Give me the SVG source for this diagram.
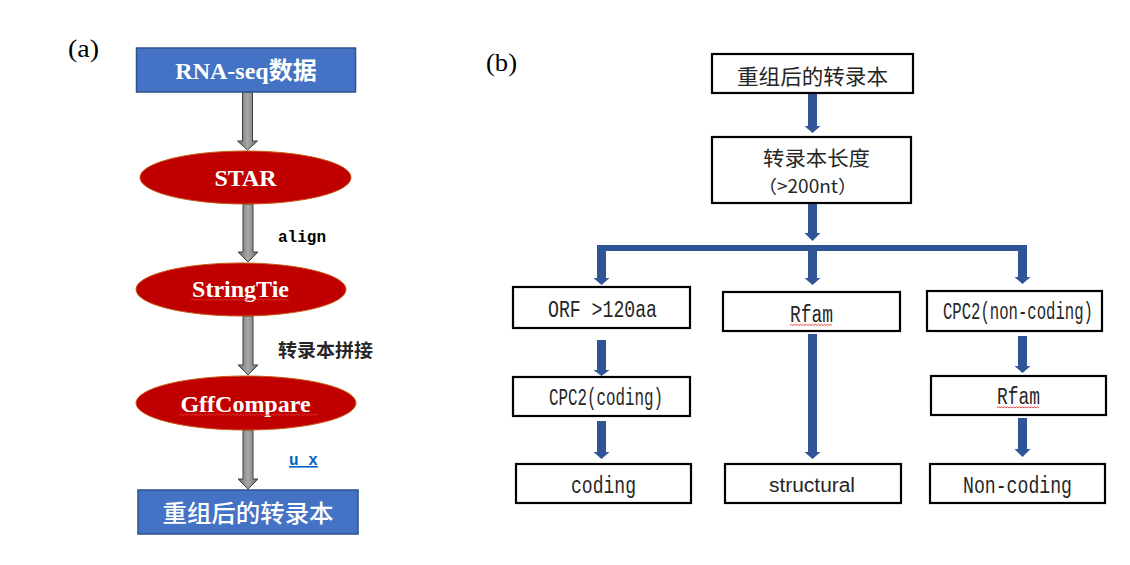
<svg xmlns="http://www.w3.org/2000/svg" width="1130" height="565" viewBox="0 0 1130 565">
<defs>
<linearGradient id="gray" x1="0" y1="0" x2="1" y2="0">
<stop offset="0" stop-color="#6a6a6a"/>
<stop offset="0.5" stop-color="#a8a8a8"/>
<stop offset="1" stop-color="#6a6a6a"/>
</linearGradient>
<style>
.bluebox{fill:#4472C4;stroke:#2F528F;stroke-width:1.5}
.red{fill:#C00000;stroke:#C55A11;stroke-width:1}
.garrow{fill:url(#gray);stroke:#404040;stroke-width:1}
.barrow{fill:#2F5597;stroke:none}
.wbox{fill:#ffffff;stroke:#000000;stroke-width:2.2}
.wt{fill:#ffffff;font-family:"Liberation Serif","Noto Sans CJK SC",serif;font-weight:bold;font-size:24px;text-anchor:middle}
.lab{font-family:"Liberation Serif","Noto Sans CJK SC",serif;font-size:25px;fill:#000}
.note{font-family:"Liberation Mono","Noto Sans CJK SC",monospace;font-size:16px;font-weight:bold;fill:#000}
.cjk{font-family:"Noto Sans CJK SC",sans-serif;fill:#262626}
.mono{font-family:"Liberation Mono","Noto Sans CJK SC",monospace;font-size:23px;fill:#262626}
.wavy{fill:none;stroke:#E03030;stroke-width:0.9}
</style>
</defs>
<rect width="1130" height="565" fill="#ffffff"/>

<text class="lab" x="68" y="57" textLength="31" lengthAdjust="spacingAndGlyphs">(a)</text>
<text class="lab" x="486" y="71" textLength="31" lengthAdjust="spacingAndGlyphs">(b)</text>

<g id="connectors">
<path class="garrow" d="M242.5,92 L252.5,92 L252.5,141 L257.5,141 L247.5,150 L237.5,141 L242.5,141 Z"/>
<path class="garrow" d="M243,204 L253,204 L253,252 L258,252 L248,262 L238,252 L243,252 Z"/>
<path class="garrow" d="M243,316 L253,316 L253,365 L258,365 L248,375 L238,365 L243,365 Z"/>
<path class="garrow" d="M243,430 L253,430 L253,479 L258,479 L248,489 L238,479 L243,479 Z"/>

<path class="barrow" d="M808,93 L817,93 L817,126 L820.5,126 L812.5,133 L804.5,126 L808,126 Z"/>
<path class="barrow" d="M808,203 L817,203 L817,233 L820.5,233 L812.5,241 L804.5,233 L808,233 Z"/>
<rect class="barrow" x="597" y="245" width="430" height="6"/>
<path class="barrow" d="M597,245 L606,245 L606,278 L609.5,278 L601.5,285 L593.5,278 L597,278 Z"/>
<path class="barrow" d="M808,251 L817,251 L817,278 L820.5,278 L812.5,285 L804.5,278 L808,278 Z"/>
<path class="barrow" d="M1018,245 L1027,245 L1027,277 L1030.5,277 L1022.5,284 L1014.5,277 L1018,277 Z"/>
<path class="barrow" d="M597,340 L606,340 L606,370 L609.5,370 L601.5,376 L593.5,370 L597,370 Z"/>
<path class="barrow" d="M597,421 L606,421 L606,452 L609.5,452 L601.5,459 L593.5,452 L597,452 Z"/>
<path class="barrow" d="M808,334 L817,334 L817,452 L820.5,452 L812.5,459 L804.5,452 L808,452 Z"/>
<path class="barrow" d="M1018,336 L1027,336 L1027,366 L1030.5,366 L1022.5,373 L1014.5,366 L1018,366 Z"/>
<path class="barrow" d="M1018,418 L1027,418 L1027,449 L1030.5,449 L1022.5,457 L1014.5,449 L1018,449 Z"/>

<text class="note" x="278" y="242">align</text>
<text class="cjk" x="278" y="357" font-size="18" font-weight="bold" fill="#000" textLength="95" lengthAdjust="spacingAndGlyphs">转录本拼接</text>
<text class="note" x="289" y="465" fill="#0563C1" style="fill:#0563C1;text-decoration:underline">u x</text>
</g>

<g id="a-rnaseq">
<rect class="bluebox" x="136.5" y="48" width="219" height="44"/>
<text class="wt" x="246" y="79">RNA-seq数据</text>
</g>
<g id="a-star">
<ellipse class="red" cx="245.5" cy="177.5" rx="105.5" ry="26.5"/>
<text class="wt" x="245.5" y="186">STAR</text>
</g>
<g id="a-stringtie">
<ellipse class="red" cx="241" cy="289.5" rx="105" ry="26.5"/>
<text class="wt" x="240.5" y="297">StringTie</text>
<path class="wavy" d="M191,300.5 l2,-1.5 l2,1.5 l2,-1.5 l2,1.5 l2,-1.5 l2,1.5 l2,-1.5 l2,1.5 l2,-1.5 l2,1.5 l2,-1.5 l2,1.5 l2,-1.5 l2,1.5 l2,-1.5 l2,1.5 l2,-1.5 l2,1.5 l2,-1.5 l2,1.5 l2,-1.5 l2,1.5 l2,-1.5 l2,1.5 l2,-1.5 l2,1.5 l2,-1.5 l2,1.5 l2,-1.5 l2,1.5 l2,-1.5 l2,1.5 l2,-1.5 l2,1.5 l2,-1.5 l2,1.5 l2,-1.5 l2,1.5 l2,-1.5 l2,1.5 l2,-1.5 l2,1.5 l2,-1.5 l2,1.5 l2,-1.5 l2,1.5 l2,-1.5 l2,1.5 l2,-1.5"/>
</g>
<g id="a-gffcompare">
<ellipse class="red" cx="246" cy="403" rx="110" ry="27"/>
<text class="wt" x="245.5" y="412">GffCompare</text>
<path class="wavy" d="M179,415.5 l2,-1.5 l2,1.5 l2,-1.5 l2,1.5 l2,-1.5 l2,1.5 l2,-1.5 l2,1.5 l2,-1.5 l2,1.5 l2,-1.5 l2,1.5 l2,-1.5 l2,1.5 l2,-1.5 l2,1.5 l2,-1.5 l2,1.5 l2,-1.5 l2,1.5 l2,-1.5 l2,1.5 l2,-1.5 l2,1.5 l2,-1.5 l2,1.5 l2,-1.5 l2,1.5 l2,-1.5 l2,1.5 l2,-1.5 l2,1.5 l2,-1.5 l2,1.5 l2,-1.5 l2,1.5 l2,-1.5 l2,1.5 l2,-1.5 l2,1.5 l2,-1.5 l2,1.5 l2,-1.5 l2,1.5 l2,-1.5 l2,1.5 l2,-1.5 l2,1.5 l2,-1.5 l2,1.5 l2,-1.5 l2,1.5 l2,-1.5 l2,1.5 l2,-1.5 l2,1.5 l2,-1.5 l2,1.5 l2,-1.5 l2,1.5 l2,-1.5 l2,1.5 l2,-1.5 l2,1.5 l2,-1.5 l2,1.5 l2,-1.5 l2,1.5 l2,-1.5"/>
</g>
<g id="a-transcripts">
<rect class="bluebox" x="138" y="490" width="220" height="44"/>
<text class="wt" x="248" y="522" font-weight="normal" style="font-weight:500" textLength="171" lengthAdjust="spacingAndGlyphs">重组后的转录本</text>
</g>

<g id="b-transcripts">
<rect class="wbox" x="712" y="54" width="201" height="39"/>
<text class="cjk" x="737" y="84" font-size="21" textLength="151" lengthAdjust="spacingAndGlyphs">重组后的转录本</text>
</g>
<g id="b-length">
<rect class="wbox" x="712" y="137" width="199" height="66"/>
<text class="cjk" x="763" y="166" font-size="20" textLength="107" lengthAdjust="spacingAndGlyphs">转录本长度</text>
<text class="cjk" x="758" y="193" font-size="18" textLength="99" lengthAdjust="spacingAndGlyphs">（&gt;200nt）</text>
</g>
<g id="b-orf">
<rect class="wbox" x="513" y="287" width="177" height="41"/>
<text class="mono" x="548" y="317" textLength="109" lengthAdjust="spacingAndGlyphs">ORF &gt;120aa</text>
</g>
<g id="b-rfam1">
<rect class="wbox" x="723" y="292" width="177" height="39"/>
<text class="mono" x="790" y="322" textLength="43" lengthAdjust="spacingAndGlyphs">Rfam</text>
<path class="wavy" d="M790,325.5 l1.5,-1.2 l1.5,1.2 l1.5,-1.2 l1.5,1.2 l1.5,-1.2 l1.5,1.2 l1.5,-1.2 l1.5,1.2 l1.5,-1.2 l1.5,1.2 l1.5,-1.2 l1.5,1.2 l1.5,-1.2 l1.5,1.2 l1.5,-1.2 l1.5,1.2 l1.5,-1.2 l1.5,1.2 l1.5,-1.2 l1.5,1.2 l1.5,-1.2 l1.5,1.2 l1.5,-1.2 l1.5,1.2 l1.5,-1.2 l1.5,1.2 l1.5,-1.2 l1.5,1.2"/>
</g>
<g id="b-cpc2nc">
<rect class="wbox" x="927" y="291" width="175" height="40"/>
<text class="mono" x="943" y="319" font-size="21" textLength="150" lengthAdjust="spacingAndGlyphs">CPC2(non-coding)</text>
</g>
<g id="b-cpc2c">
<rect class="wbox" x="513" y="377" width="177" height="39"/>
<text class="mono" x="549" y="405" font-size="21" textLength="114" lengthAdjust="spacingAndGlyphs">CPC2(coding)</text>
</g>
<g id="b-rfam2">
<rect class="wbox" x="931" y="376" width="175" height="39"/>
<text class="mono" x="997" y="404" textLength="43" lengthAdjust="spacingAndGlyphs">Rfam</text>
<path class="wavy" d="M997,408 l1.5,-1.2 l1.5,1.2 l1.5,-1.2 l1.5,1.2 l1.5,-1.2 l1.5,1.2 l1.5,-1.2 l1.5,1.2 l1.5,-1.2 l1.5,1.2 l1.5,-1.2 l1.5,1.2 l1.5,-1.2 l1.5,1.2 l1.5,-1.2 l1.5,1.2 l1.5,-1.2 l1.5,1.2 l1.5,-1.2 l1.5,1.2 l1.5,-1.2 l1.5,1.2 l1.5,-1.2 l1.5,1.2 l1.5,-1.2 l1.5,1.2 l1.5,-1.2 l1.5,1.2"/>
</g>
<g id="b-coding">
<rect class="wbox" x="516" y="464" width="175" height="39"/>
<text class="mono" x="571" y="493" textLength="65" lengthAdjust="spacingAndGlyphs">coding</text>
</g>
<g id="b-structural">
<rect class="wbox" x="725" y="464" width="176" height="39"/>
<text x="769" y="492" font-family="'Liberation Sans',Arial,sans-serif" font-size="20" fill="#262626" textLength="86" lengthAdjust="spacingAndGlyphs">structural</text>
</g>
<g id="b-noncoding">
<rect class="wbox" x="930" y="464" width="175" height="39"/>
<text class="mono" x="963" y="493" textLength="109" lengthAdjust="spacingAndGlyphs">Non-coding</text>
</g>
</svg>
